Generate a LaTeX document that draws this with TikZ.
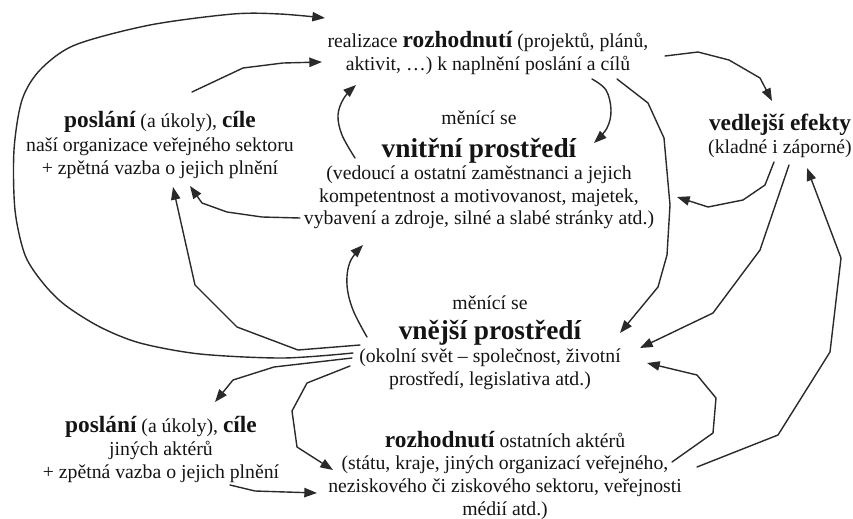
\documentclass[tikz,border=0pt]{standalone}
\usepackage{fontspec}
\setmainfont{Liberation Serif}
\usetikzlibrary{arrows.meta}
\definecolor{ink}{HTML}{141414}
\definecolor{wire}{HTML}{2A2A2A}
% heading sizes
\newcommand\hb[1]{{\fontsize{17.5}{17}\selectfont\bfseries #1}}
\newcommand\Hb[1]{{\fontsize{20.5}{17}\selectfont\bfseries #1}}
\begin{document}
\begin{tikzpicture}[x=0.75pt,y=-0.75pt,
  txt/.style={align=center, inner sep=0pt, text=ink, font=\fontsize{14.8}{17}\selectfont},
  conn/.style={draw=wire, line width=1.05pt, line join=round, line cap=round,
    -{Triangle[length=9.5pt,width=7pt]}},
]
\useasboundingbox (0,0) rectangle (853,518);

% text blocks
\node[txt] (real) at (488,53) {realizace \hb{rozhodnutí} (projektů, plánů,\\
  aktivit, …) k naplnění poslání a cílů};
\node[txt] (posl) at (160,145) {\hb{poslání} (a úkoly), \hb{cíle}\\[1pt]
  naší organizace veřejného sektoru\\[0.3pt]
  + zpětná vazba o jejich plnění};
\node[txt] (vnitr) at (479,170) {měnící se\\[7.5pt]
  \Hb{vnitřní prostředí}\\[-0.3pt]
  (vedoucí a ostatní zaměstnanci a jejich\\
  kompetentnost a motivovanost, majetek,\\
  vybavení a zdroje, silné a slabé stránky atd.)};
\node[txt] (vedl) at (780,136) {\hb{vedlejší efekty}\\
  (kladné i záporné)};
\node[txt] (vnej) at (490,343) {měnící se\\[5.5pt]
  \Hb{vnější prostředí}\\[0.3pt]
  (okolní svět – společnost, životní\\
  prostředí, legislativa atd.)};
\node[txt] (posl2) at (161,449) {\hb{poslání} (a úkoly), \hb{cíle}\\[0.5pt]
  jiných aktérů\\
  + zpětná vazba o jejich plnění};
\node[txt] (rozh) at (505,475) {\hb{rozhodnutí} ostatních aktérů\\
  (státu, kraje, jiných organizací veřejného,\\
  neziskového či ziskového sektoru, veřejnosti\\
  médií atd.)};

% outer loop: external environment -> realisation
\draw[conn] plot[smooth, tension=0.5] coordinates {([shift={(-137,10)}]vnej.center)
  (283,358) (200,354) (140,343) (100,327) (65,305) (43,283) (25,255) (15,210)
  (14,150) (22,100) (40,70) (75,45) (150,25) (233,14) (280,14)
  ([shift={(-163,-35)}]real.center)};

% mission -> realisation
\draw[conn] ([shift={(32,-53)}]posl.center) -- (243,68) -- (283,63)
  -- ([shift={(-166,9)}]real.center);

% internal environment -> realisation
\draw[conn] plot[smooth, tension=0.6] coordinates {([shift={(-124,-12)}]vnitr.center)
  (342,135) (338,115) (344,98) ([shift={(-132,32)}]real.center)};

% internal environment -> mission
\draw[conn] ([shift={(-179,48)}]vnitr.center) -- (262,217) -- (227,212) -- (202,203)
  -- ([shift={(30,41)}]posl.center);

% external environment -> mission
\draw[conn] ([shift={(-130,2)}]vnej.center) -- (298,350) -- (237,327) -- (195,285)
  -- ([shift={(13,42)}]posl.center);

% external environment -> internal environment
\draw[conn] plot[smooth, tension=0.6] coordinates {([shift={(-123,-6)}]vnej.center)
  (353,310) (347,285) (350,262) ([shift={(-116,75)}]vnitr.center)};

% external environment -> other actors' mission
\draw[conn] ([shift={(-138,15)}]vnej.center) -- (274,367) -- (233,380)
  -- ([shift={(54,-47)}]posl2.center);

% external environment -> other actors' decisions
\draw[conn] ([shift={(-140,23)}]vnej.center) -- (307,383) -- (292,411) -- (297,447)
  -- ([shift={(-172,-5)}]rozh.center);

% other actors' mission -> their decisions
\draw[conn] ([shift={(69,36)}]posl2.center) -- (255,491)
  -- ([shift={(-188,18)}]rozh.center);

% realisation -> side effects
\draw[conn] ([shift={(177,3)}]real.center) -- (698,52) -- (729,60) -- (760,78)
  -- ([shift={(-8,-35)}]vedl.center);

% realisation -> internal environment
\draw[conn] plot[smooth, tension=0.6] coordinates {([shift={(104,26)}]real.center)
  (606,90) (611,110) (607,128) ([shift={(115,-27)}]vnitr.center)};

% realisation -> external environment
\draw[conn] ([shift={(129,26)}]real.center) -- (648,103) -- (664,138) -- (670,205)
  -- (667,255) -- (658,287) -- ([shift={(130,-10)}]vnej.center);

% side effects -> internal environment
\draw[conn] ([shift={(-6,26)}]vedl.center) -- (765,185) -- (743,200) -- (708,207)
  -- ([shift={(198,27)}]vnitr.center);

% side effects -> external environment
\draw[conn] ([shift={(9,29)}]vedl.center) -- (760,250) -- (713,313)
  -- ([shift={(150,5)}]vnej.center);

% other actors' decisions -> side effects
\draw[conn] ([shift={(192,-8)}]rozh.center) -- (778,435) -- (830,352) -- (841,258)
  -- ([shift={(27,32)}]vedl.center);

% other actors' decisions -> external environment
\draw[conn] ([shift={(167,-13)}]rozh.center) -- (713,433) -- (716,398) -- (697,375)
  -- ([shift={(157,20)}]vnej.center);
\end{tikzpicture}
\end{document}
